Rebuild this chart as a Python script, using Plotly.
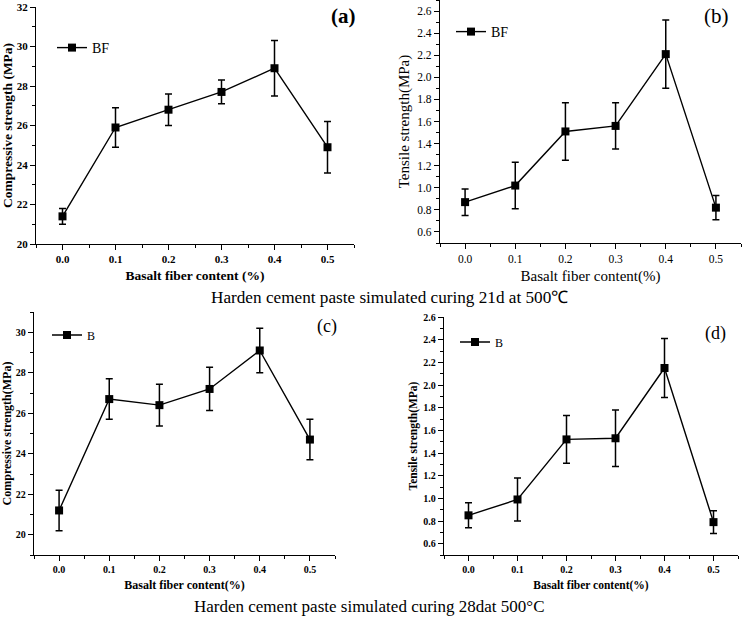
import plotly.graph_objects as go

W, H = 742, 617

content = [0.0, 0.1, 0.2, 0.3, 0.4, 0.5]

comp_21 = [21.4, 25.9, 26.8, 27.7, 28.9, 24.9]
comp_21_err = [0.4, 1.0, 0.8, 0.6, 1.4, 1.3]
tens_21 = [0.87, 1.02, 1.51, 1.56, 2.21, 0.82]
tens_21_err = [0.12, 0.21, 0.26, 0.21, 0.31, 0.11]
comp_28 = [21.2, 26.7, 26.4, 27.2, 29.1, 24.7]
comp_28_err = [1.0, 1.0, 1.03, 1.07, 1.1, 1.0]
tens_28 = [0.85, 0.99, 1.52, 1.53, 2.15, 0.79]
tens_28_err = [0.11, 0.19, 0.21, 0.25, 0.26, 0.10]

legend_names = ["BF", "BF", "B", "B"]
panel_labels = ["(a)", "(b)", "(c)", "(d)"]
x_titles = ["Basalt fiber content (%)", "Basalt fiber content(%)",
            "Basalt fiber content(%)", "Basalt fiber content(%)"]
y_titles = ["Compressive strength (MPa)", "Tensile strength(MPa)",
            "Compressive strength(MPa)", "Tensile strength(MPa)"]
captions = ["Harden cement paste simulated curing 21d at 500\u2103",
            "Harden cement paste simulated curing 28dat 500\u00b0C"]

SERIF = "Liberation Serif"

# pixel boxes: (left, right, top, bottom)
boxes = [(36, 354, 7, 244), (440, 741, 0, 243), (34, 335, 312, 555), (444, 738, 317, 555)]
yranges = [[20, 32], [0.5, 2.7], [19, 31], [0.5, 2.6]]
ydticks = [2, 0.2, 2, 0.2]
yformats = ["d", ".1f", "d", ".1f"]
tick_sizes = [11, 11.5, 10, 10]
tick_bold = [True, False, True, True]
title_sizes = [13.5, 15, 12, 11.5]
title_bold = [True, False, True, True]
label_sizes = [21, 21, 18, 18]
label_bold = [True, False, False, False]
label_pos = [(343, 16), (716, 16), (327, 326), (715, 333)]
legend_pos = [(52, 48), (451, 32), (47, 335), (455, 342)]
legend_sizes = [14, 14, 12, 12]
series = [(comp_21, comp_21_err), (tens_21, tens_21_err),
          (comp_28, comp_28_err), (tens_28, tens_28_err)]

fig = go.Figure()

def px_x(v):
    return v / W

def px_y(v):
    return 1 - v / H

for i in range(4):
    ax = "" if i == 0 else str(i + 1)
    vals, errs = series[i]
    fig.add_trace(go.Scatter(
        x=content, y=vals, mode="lines+markers",
        name=legend_names[i],
        xaxis="x" + ax, yaxis="y" + ax,
        legend="legend" + ax,
        line=dict(color="black", width=1.4),
        marker=dict(symbol="square", size=8, color="black"),
        error_y=dict(type="data", array=errs, visible=True,
                     color="black", thickness=1.5, width=3.5),
    ))
    l, r, t, b = boxes[i]
    tfont = dict(family=SERIF, size=tick_sizes[i], color="black",
                 weight="bold" if tick_bold[i] else "normal")
    ttl_font = dict(family=SERIF, size=title_sizes[i], color="black",
                    weight="bold" if title_bold[i] else "normal")
    fig.update_layout(**{
        "xaxis" + ax: dict(
            domain=[px_x(l), px_x(r)], anchor="y" + ax, automargin=False,
            range=[-0.05, 0.55], tickmode="linear", tick0=0, dtick=0.1,
            tickformat=".1f", showgrid=False, zeroline=False,
            showline=True, linecolor="black", linewidth=1.3,
            ticks="outside", ticklen=5, tickwidth=1.2, tickcolor="black",
            minor=dict(ticks="outside", ticklen=3, tickwidth=1, tickcolor="black",
                       dtick=0.05, tick0=0, showgrid=False),
            tickfont=tfont,
            title=dict(text=x_titles[i], standoff=6, font=ttl_font),
        ),
        "yaxis" + ax: dict(
            domain=[px_y(b), px_y(t)], anchor="x" + ax, automargin=False,
            range=yranges[i], tickmode="linear", tick0=0,
            dtick=ydticks[i], tickformat=yformats[i],
            showgrid=False, zeroline=False,
            showline=True, linecolor="black", linewidth=1.3,
            ticks="outside", ticklen=5, tickwidth=1.2, tickcolor="black",
            minor=dict(ticks="outside", ticklen=3, tickwidth=1, tickcolor="black",
                       dtick=ydticks[i] / 2, tick0=0, showgrid=False),
            tickfont=tfont,
            title=dict(text=y_titles[i], standoff=3, font=ttl_font),
        ),
        "legend" + ax: dict(
            x=px_x(legend_pos[i][0]), y=px_y(legend_pos[i][1]),
            xanchor="left", yanchor="middle", bgcolor="rgba(0,0,0,0)",
            itemwidth=30, tracegroupgap=0,
            font=dict(family=SERIF, size=legend_sizes[i], color="black"),
        ),
    })
    lx, ly = label_pos[i]
    fig.add_annotation(
        x=px_x(lx), y=px_y(ly), xref="paper", yref="paper",
        text=panel_labels[i], showarrow=False, xanchor="center", yanchor="middle",
        font=dict(family=SERIF, size=label_sizes[i], color="black",
                  weight="bold" if label_bold[i] else "normal"),
    )

fig.add_annotation(x=px_x(390), y=px_y(297), xref="paper", yref="paper",
                   text=captions[0], showarrow=False, xanchor="center", yanchor="middle",
                   font=dict(family=SERIF, size=17.2, color="black"))
fig.add_annotation(x=px_x(369), y=px_y(606), xref="paper", yref="paper",
                   text=captions[1], showarrow=False, xanchor="center", yanchor="middle",
                   font=dict(family=SERIF, size=17, color="black"))

fig.update_layout(
    width=W, height=H,
    margin=dict(l=0, r=0, t=0, b=0),
    paper_bgcolor="white", plot_bgcolor="white",
    showlegend=True,
)

fig.write_html(
    "out.html",
    config={"displayModeBar": False},
    post_script="document.body.style.margin='0';document.body.style.overflow='hidden';",
)
